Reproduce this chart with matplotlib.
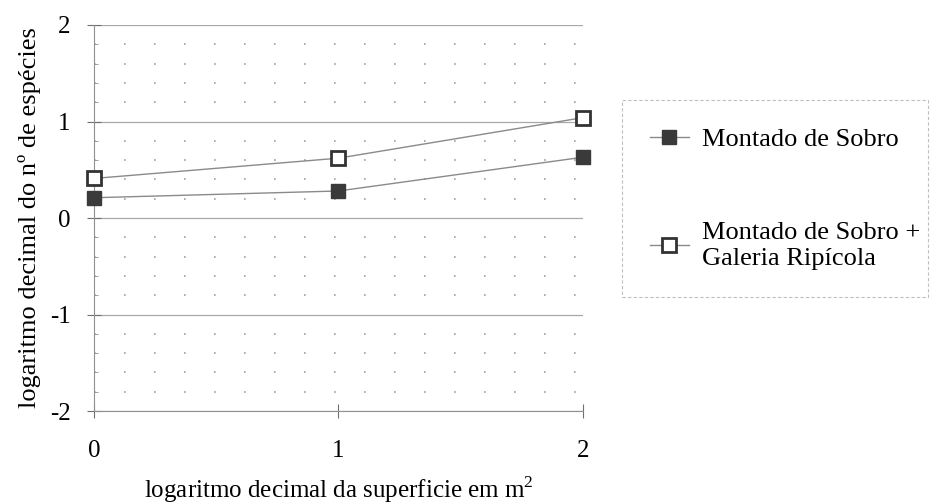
import matplotlib
matplotlib.use("Agg")
import matplotlib.pyplot as plt
from matplotlib.ticker import MultipleLocator, FuncFormatter

# data
x_vals = [0, 1, 2]
montado = [0.21, 0.28, 0.63]
montado_galeria = [0.41, 0.62, 1.04]
labels = ["Montado de Sobro", "Montado de Sobro +\nGaleria Ripícola"]

plt.rcParams["font.family"] = ["Liberation Serif", "DejaVu Serif"]
plt.rcParams["mathtext.fontset"] = "custom"
plt.rcParams["mathtext.rm"] = "Liberation Serif"
plt.rcParams["axes.unicode_minus"] = False

fig = plt.figure(figsize=(9.38, 5.04), dpi=100)
ax = fig.add_axes([0.1002, 0.1845, 0.5213, 0.7659])

ax.plot(x_vals, montado, color="#8a8a8a", lw=1.0, marker="s", markersize=10.5,
        markerfacecolor="#3a3a3a", markeredgecolor="#3a3a3a", label=labels[0],
        zorder=3, clip_on=False)
ax.plot(x_vals, montado_galeria, color="#8a8a8a", lw=1.0, marker="s", markersize=10,
        markerfacecolor="white", markeredgecolor="#333333", markeredgewidth=2,
        label=labels[1], zorder=3, clip_on=False)

ax.set_xlim(0, 2)
ax.set_ylim(-2, 2)
ax.xaxis.set_major_locator(MultipleLocator(1))
ax.yaxis.set_major_locator(MultipleLocator(1))
ax.yaxis.set_minor_locator(MultipleLocator(0.2))
ax.yaxis.set_major_formatter(FuncFormatter(lambda v, p: "%d" % round(v)))

# grid: solid major, dotted minor horizontal lines
ax.grid(axis="y", which="major", color="#a8a8a8", lw=0.9, ls="-")
ax.grid(axis="y", which="minor", color="#a0a0a0", lw=1.2, ls=(0, (1, 17)))
ax.set_axisbelow(True)

for s in ["top", "right"]:
    ax.spines[s].set_visible(False)
ax.spines["left"].set_color("#909090")
ax.spines["bottom"].set_color("#909090")
ax.tick_params(axis="both", which="major", direction="inout", length=10,
               color="#707070", labelsize=18)
ax.tick_params(axis="x", which="major", pad=16)
ax.tick_params(axis="y", which="major", pad=12)
ax.tick_params(axis="y", which="minor", direction="in", length=3, color="#909090")

ax.set_xlabel("logaritmo decimal da superficie em m$^2$", fontsize=18, labelpad=9)
ax.set_ylabel("logaritmo decimal do nº de espécies", fontsize=19, labelpad=6)

leg = fig.legend(loc="upper left", bbox_to_anchor=(0.663, 0.43, 0.326, 0.372),
                 mode="expand", fontsize=19, borderaxespad=0,
                 frameon=True, fancybox=False, edgecolor="#b0b0b0",
                 labelspacing=2.7, handlelength=1.5, handletextpad=0.5,
                 borderpad=1.05)
leg.get_frame().set_linestyle((0, (3, 2)))
leg.get_frame().set_linewidth(0.8)

fig.savefig("out.png", dpi=100)
